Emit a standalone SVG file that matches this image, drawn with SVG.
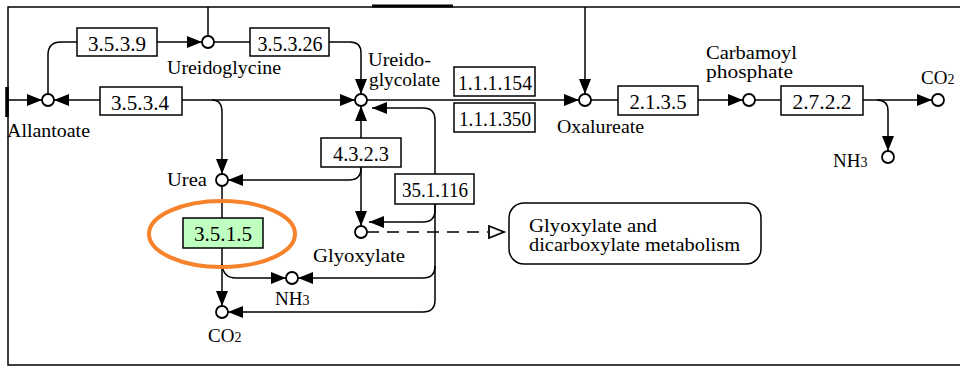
<svg xmlns="http://www.w3.org/2000/svg" width="960" height="367" viewBox="0 0 960 367">
<defs>
<style>
text{font-family:"Liberation Serif","DejaVu Serif","Noto Serif",serif;font-size:19px;fill:#000}
.bt{text-anchor:middle;font-size:21px}
.box{fill:#fff;stroke:#000;stroke-width:1.5}
.cpd{fill:#fff;stroke:#000;stroke-width:1.8}
.ln{fill:none;stroke:#000;stroke-width:1.5}
.ar{fill:none;stroke:#000;stroke-width:1.5;marker-end:url(#arr)}
.sub{font-size:14px}
</style>
<marker id="arr" viewBox="0 0 15 12" markerWidth="15" markerHeight="12" refX="15" refY="6" orient="auto" markerUnits="userSpaceOnUse">
<path d="M0,0 L15,6 L0,12 z" fill="#000"/>
</marker>
</defs>
<rect width="960" height="367" fill="#fff"/>
<g id="frame">
<path class="ln" d="M960,7 H8 V365 H960"/>
<path d="M372,6 H453" stroke="#000" stroke-width="3"/>
<path d="M7,87 V117" stroke="#000" stroke-width="3.5"/>
</g>
<g id="connectors">
<path class="ln" d="M208,7 V36"/>
<path class="ar" d="M157,42 H202"/>
<path class="ln" d="M214,42 H250"/>
<path class="ar" d="M329,42 H350 Q361,42 361,53 V94"/>
<path class="ln" d="M48,94 V55 Q48,42 61,42 H77"/>
<path class="ar" d="M8,100 H42"/>
<path class="ar" d="M100,100 H54"/>
<path class="ar" d="M182,100 H355"/>
<path class="ar" d="M212,100 Q222,100 222,112 V174"/>
<path class="ar" d="M367,100 H579"/>
<path class="ar" d="M585,7 V94"/>
<path class="ln" d="M591,100 H618"/>
<path class="ar" d="M698,100 H743"/>
<path class="ln" d="M755,100 H781"/>
<path class="ar" d="M863,100 H932"/>
<path class="ar" d="M877,100 Q888,100 888,111 V151"/>
<path class="ar" d="M361,138 V106"/>
<path class="ar" d="M361,167 V226"/>
<path class="ar" d="M361,168 Q361,180 349,180 H228"/>
<path class="ar" d="M435,174 V120 Q435,108 423,108 H372"/>
<path class="ar" d="M435,204 V210 Q435,222 423,222 H369"/>
<path class="ar" d="M435,266 Q435,278 423,278 H298"/>
<path class="ar" d="M435,204 V300 Q435,312 423,312 H228"/>
<path class="ln" d="M222,186 V218"/>
<path class="ar" d="M222,248 V306"/>
<path class="ar" d="M222,264 Q223,278 236,278 H286"/>
<path class="ln" d="M367,232 H488" stroke-dasharray="12,8"/>
<path d="M489,226 L504,232 L489,238 z" fill="#fff" stroke="#000" stroke-width="1.8"/>
</g>
<g id="n_allantoate"><circle class="cpd" cx="48" cy="100" r="6"/><text x="7" y="137" textLength="83" lengthAdjust="spacingAndGlyphs">Allantoate</text></g>
<g id="n_ureidoglycine"><circle class="cpd" cx="208" cy="42" r="6"/><text x="167" y="74" textLength="114" lengthAdjust="spacingAndGlyphs">Ureidoglycine</text></g>
<g id="n_ureidoglycolate"><circle class="cpd" cx="361" cy="100" r="6"/><text x="368" y="66" textLength="63" lengthAdjust="spacingAndGlyphs">Ureido-</text><text x="369" y="86" textLength="71" lengthAdjust="spacingAndGlyphs">glycolate</text></g>
<g id="n_oxalureate"><circle class="cpd" cx="585" cy="100" r="6"/><text x="557" y="133" textLength="87" lengthAdjust="spacingAndGlyphs">Oxalureate</text></g>
<g id="n_carbamoyl"><circle class="cpd" cx="749" cy="100" r="6"/><text x="706" y="59" textLength="91" lengthAdjust="spacingAndGlyphs">Carbamoyl</text><text x="706" y="78" textLength="87" lengthAdjust="spacingAndGlyphs">phosphate</text></g>
<g id="n_co2_right"><circle class="cpd" cx="938" cy="100" r="6"/><text x="921" y="84">CO<tspan class="sub">2</tspan></text></g>
<g id="n_nh3_right"><circle class="cpd" cx="888" cy="157" r="6"/><text x="833" y="167">NH<tspan class="sub">3</tspan></text></g>
<g id="n_urea"><circle class="cpd" cx="222" cy="180" r="6"/><text x="167" y="186" textLength="40" lengthAdjust="spacingAndGlyphs">Urea</text></g>
<g id="n_glyoxylate"><circle class="cpd" cx="361" cy="232" r="6"/><text x="313" y="262" textLength="92" lengthAdjust="spacingAndGlyphs">Glyoxylate</text></g>
<g id="n_nh3_bottom"><circle class="cpd" cx="292" cy="278" r="6"/><text x="275" y="305">NH<tspan class="sub">3</tspan></text></g>
<g id="n_co2_bottom"><circle class="cpd" cx="222" cy="312" r="6"/><text x="208" y="342">CO<tspan class="sub">2</tspan></text></g>
<g id="e_3539"><rect class="box" x="77" y="28" width="80" height="28"/><text class="bt" x="117" y="51" textLength="58" lengthAdjust="spacingAndGlyphs">3.5.3.9</text></g>
<g id="e_35326"><rect class="box" x="250" y="28" width="79" height="28"/><text class="bt" x="290" y="51" textLength="65" lengthAdjust="spacingAndGlyphs">3.5.3.26</text></g>
<g id="e_3534"><rect class="box" x="100" y="87" width="82" height="28"/><text class="bt" x="140" y="110" textLength="58" lengthAdjust="spacingAndGlyphs">3.5.3.4</text></g>
<g id="e_111154"><rect class="box" x="454" y="67" width="81" height="29"/><text class="bt" x="495" y="90" textLength="74" lengthAdjust="spacingAndGlyphs">1.1.1.154</text></g>
<g id="e_111350"><rect class="box" x="454" y="103" width="81" height="29"/><text class="bt" x="495" y="126" textLength="72" lengthAdjust="spacingAndGlyphs">1.1.1.350</text></g>
<g id="e_4323"><rect class="box" x="321" y="138" width="80" height="29"/><text class="bt" x="361" y="161" textLength="56" lengthAdjust="spacingAndGlyphs">4.3.2.3</text></g>
<g id="e_351116"><rect class="box" x="395" y="174" width="79" height="30"/><text class="bt" x="435" y="197" textLength="66" lengthAdjust="spacingAndGlyphs">35.1.116</text></g>
<g id="e_2135"><rect class="box" x="618" y="86" width="80" height="29"/><text class="bt" x="658" y="109" textLength="57" lengthAdjust="spacingAndGlyphs">2.1.3.5</text></g>
<g id="e_2722"><rect class="box" x="781" y="86" width="82" height="29"/><text class="bt" x="822" y="109" textLength="59" lengthAdjust="spacingAndGlyphs">2.7.2.2</text></g>
<g id="e_3515"><rect class="box" x="183" y="218" width="80" height="30" style="fill:#bfffbf"/><text class="bt" x="223" y="241" textLength="58" lengthAdjust="spacingAndGlyphs">3.5.1.5</text></g>
<g id="highlight"><ellipse cx="222" cy="234" rx="73" ry="33" fill="none" stroke="#f7822c" stroke-width="4"/></g>
<g id="m_glyoxylate_dicarboxylate"><rect x="509" y="203" width="252" height="61" rx="15" ry="15" fill="#fff" stroke="#000" stroke-width="1.5"/><text x="529" y="232" textLength="128" lengthAdjust="spacingAndGlyphs">Glyoxylate and</text><text x="529" y="251" textLength="211" lengthAdjust="spacingAndGlyphs">dicarboxylate metabolism</text></g>
</svg>
